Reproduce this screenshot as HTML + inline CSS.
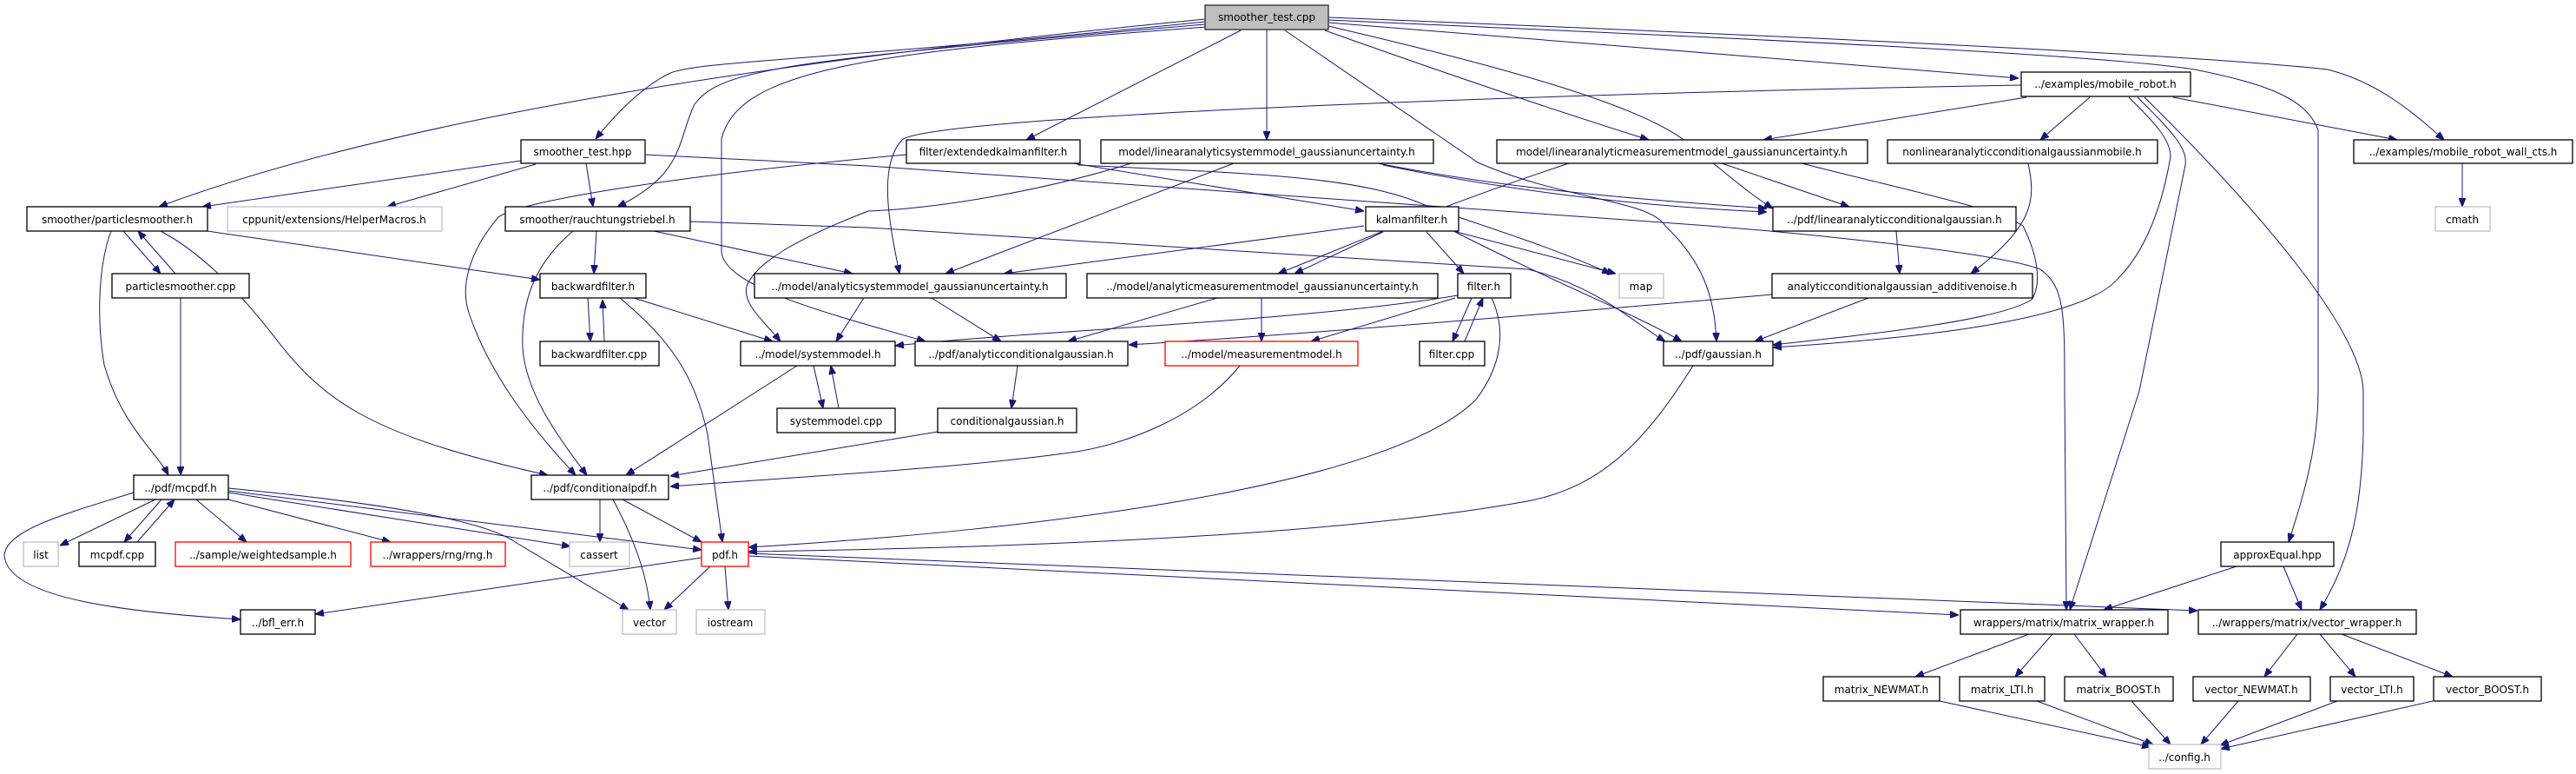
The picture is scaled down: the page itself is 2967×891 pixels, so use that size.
<!DOCTYPE html>
<html><head><meta charset="utf-8"><style>
html,body{margin:0;padding:0;background:#fff;}
svg{display:block;}
text{font-family:"DejaVu Sans","Liberation Sans",sans-serif;font-size:12px;fill:#000;text-anchor:middle;}
.n{fill:#fff;stroke:#000;stroke-width:1.3;}
.g{fill:#fff;stroke:#bfbfbf;stroke-width:1.3;}
.r{fill:#fff;stroke:#ff0000;stroke-width:1.3;}
.e{fill:none;stroke:#191970;stroke-width:1;marker-end:url(#a);}
</style></head><body>
<svg width="2967" height="891" viewBox="0 0 2967 891" xmlns="http://www.w3.org/2000/svg">
<defs><marker id="a" markerWidth="10" markerHeight="8" refX="10" refY="4" orient="auto" markerUnits="userSpaceOnUse"><path d="M0,0 L10,4 L0,8 z" fill="#191970" stroke="#191970"/></marker></defs>

<g>
<path class="e" d="M1388,22 C1000,60 500,120 183,238"/>
<path class="e" d="M1388,25 C950,70 800,70 770,85 C740,100 710,130 686,160"/>
<path class="e" d="M1388,28 C900,70 830,80 800,120 C780,160 790,200 711,238"/>
<path class="e" d="M1390,31 C1000,60 850,80 831,160 L831,290 C835,330 950,360 1066,393"/>
<path class="e" d="M1429,35 L1182,161"/>
<path class="e" d="M1459,34 L1459,161"/>
<path class="e" d="M1480,35 L1702,187 C1800,230 1900,230 1918,260 C1960,300 1975,340 1977,393"/>
<path class="e" d="M1526,35 C1680,90 1800,130 1899,161"/>
<path class="e" d="M1530,26 L2325,90"/>
<path class="e" d="M1530,30 C1700,70 1900,120 1950,170 C1990,200 2010,220 2042,240"/>
<path class="e" d="M1530,20 C1900,35 2500,60 2681,80 C2740,95 2780,130 2815,161"/>
<path class="e" d="M1530,23 C1900,40 2400,60 2528,80 C2600,95 2656,110 2670,150 L2670,450 C2670,520 2650,580 2636,624"/>
<path class="e" d="M600,185 L233,238"/>
<path class="e" d="M617,189 L446,238"/>
<path class="e" d="M675,188 L683,238"/>
<path class="e" d="M743,178 L1000,191 L1900,255 C2050,265 2300,290 2350,310 C2378,330 2378,360 2378,450 L2380,702"/>
<path class="e" d="M2328,98 C1900,105 1100,130 1040,160 C1010,190 1025,260 1036,315"/>
<path class="e" d="M2334,112 L2031,161"/>
<path class="e" d="M2407,112 L2350,161"/>
<path class="e" d="M2503,112 L2761,161"/>
<path class="e" d="M2452,112 C2480,140 2500,160 2500,180 C2490,240 2470,290 2440,320 C2400,370 2200,390 2042,400"/>
<path class="e" d="M2462,112 C2500,150 2520,170 2517,190 L2464,450 L2384,702"/>
<path class="e" d="M2470,112 C2600,240 2720,380 2722,450 L2722,500 C2720,580 2710,640 2672,702"/>
<path class="e" d="M1587,188 C1750,220 1900,230 2035,240"/>
<path class="e" d="M1593,190 C1750,222 1900,238 2035,244"/>
<path class="e" d="M1421,188 L1089,315"/>
<path class="e" d="M1303,188 C1200,220 1080,240 1000,243 C930,270 870,300 860,330 C855,350 880,370 899,393"/>
<path class="e" d="M1983,188 L2130,238"/>
<path class="e" d="M2075,188 C2200,220 2300,240 2330,260 C2350,300 2350,330 2340,345 C2300,370 2150,385 2042,397"/>
<path class="e" d="M1807,188 C1650,240 1560,280 1472,315"/>
<path class="e" d="M1236,188 L1571,243"/>
<path class="e" d="M1242,190 C1450,200 1574,203 1650,240 C1740,270 1800,290 1855,315"/>
<path class="e" d="M1044,178 C800,200 600,230 574,250 C540,290 530,330 540,360 C560,420 600,480 663,547"/>
<path class="e" d="M2184,266 L2188,315"/>
<path class="e" d="M2336,188 C2345,230 2343,260 2270,315"/>
<path class="e" d="M2152,343 L2021,393"/>
<path class="e" d="M2041,339 C1800,360 1500,385 1300,397"/>
<path class="e" d="M2836,188 L2836,238"/>
<path class="e" d="M1571,260 L1156,315"/>
<path class="e" d="M1593,267 L1491,315"/>
<path class="e" d="M1643,267 L1686,315"/>
<path class="e" d="M1670,265 L1861,315"/>
<path class="e" d="M1676,267 C1800,330 1880,360 1937,393"/>
<path class="e" d="M687,266 L684,315"/>
<path class="e" d="M753,266 L982,315"/>
<path class="e" d="M660,266 C620,300 600,340 602,400 C605,450 640,500 676,547"/>
<path class="e" d="M795,255 L1000,262 L1760,310 C1840,330 1880,370 1918,393"/>
<path class="e" d="M995,343 L963,393"/>
<path class="e" d="M1073,343 L1153,393"/>
<path class="e" d="M1402,343 L1230,393"/>
<path class="e" d="M1453,343 L1453,393"/>
<path class="e" d="M1679,340 C1500,370 1200,380 1031,398"/>
<path class="e" d="M1676,343 L1510,393"/>
<path class="e" d="M1695,343 L1673,393"/>
<path class="e" d="M1687,393 L1708,343"/>
<path class="e" d="M1718,343 C1735,380 1730,420 1700,460 C1600,560 1200,610 862,630"/>
<path class="e" d="M677,343 L680,393"/>
<path class="e" d="M696,393 L694,345"/>
<path class="e" d="M730,343 L890,393"/>
<path class="e" d="M714,343 C770,390 800,430 815,500 L832,624"/>
<path class="e" d="M937,421 L948,470"/>
<path class="e" d="M966,470 L957,421"/>
<path class="e" d="M918,421 L721,547"/>
<path class="e" d="M1172,421 L1165,470"/>
<path class="e" d="M1080,497 L772,548"/>
<path class="e" d="M1428,421 C1380,480 1300,510 1240,520 C1100,540 900,550 772,560"/>
<path class="e" d="M1950,421 C1900,500 1850,560 1759,577 C1550,615 1200,630 862,635"/>
<path class="e" d="M142,266 L185,315"/>
<path class="e" d="M202,315 L159,266"/>
<path class="e" d="M128,266 C115,300 110,360 120,420 C140,490 180,520 194,547"/>
<path class="e" d="M185,266 C230,290 270,330 310,380 C370,460 420,500 631,547"/>
<path class="e" d="M239,266 L622,322"/>
<path class="e" d="M208,343 L208,547"/>
<path class="e" d="M691,575 L691,624"/>
<path class="e" d="M706,575 C730,620 745,660 749,702"/>
<path class="e" d="M717,575 L808,624"/>
<path class="e" d="M818,652 L765,702"/>
<path class="e" d="M835,652 L839,702"/>
<path class="e" d="M808,642 L363,707"/>
<path class="e" d="M862,640 L2256,708"/>
<path class="e" d="M862,637 L2531,703"/>
<path class="e" d="M179,575 L69,628"/>
<path class="e" d="M186,575 L143,624"/>
<path class="e" d="M158,624 L201,575"/>
<path class="e" d="M226,575 L284,624"/>
<path class="e" d="M263,575 L450,624"/>
<path class="e" d="M263,567 L657,629"/>
<path class="e" d="M263,565 L808,633"/>
<path class="e" d="M263,562 C450,580 560,600 595,625 L724,702"/>
<path class="e" d="M154,567 C80,590 5,610 5,640 C10,690 150,705 277,713"/>
<path class="e" d="M2576,652 L2423,702"/>
<path class="e" d="M2630,652 L2651,702"/>
<path class="e" d="M2337,730 L2206,779"/>
<path class="e" d="M2364,730 L2321,779"/>
<path class="e" d="M2389,730 L2426,779"/>
<path class="e" d="M2646,730 L2608,779"/>
<path class="e" d="M2672,730 L2713,779"/>
<path class="e" d="M2697,730 L2825,779"/>
<path class="e" d="M2234,807 L2477,860"/>
<path class="e" d="M2346,807 L2480,857"/>
<path class="e" d="M2455,807 L2500,857"/>
<path class="e" d="M2578,807 L2535,857"/>
<path class="e" d="M2692,807 L2557,858"/>
<path class="e" d="M2802,807 L2558,862"/>
</g>

<g>
<rect x="1388" y="6" width="142" height="28" fill="#bfbfbf" stroke="#404040" stroke-width="1.5"/><text x="1459" y="24">smoother_test.cpp</text>
<rect class="n" x="2328" y="83" width="195" height="28"/><text x="2425" y="101">../examples/mobile_robot.h</text>
<rect class="n" x="600" y="161" width="143" height="27"/><text x="671" y="179">smoother_test.hpp</text>
<rect class="n" x="1044" y="161" width="200" height="27"/><text x="1144" y="179">filter/extendedkalmanfilter.h</text>
<rect class="n" x="1268" y="161" width="383" height="27"/><text x="1459" y="179">model/linearanalyticsystemmodel_gaussianuncertainty.h</text>
<rect class="n" x="1724" y="161" width="427" height="27"/><text x="1937" y="179">model/linearanalyticmeasurementmodel_gaussianuncertainty.h</text>
<rect class="n" x="2174" y="161" width="311" height="27"/><text x="2329" y="179">nonlinearanalyticconditionalgaussianmobile.h</text>
<rect class="n" x="2711" y="161" width="252" height="27"/><text x="2837" y="179">../examples/mobile_robot_wall_cts.h</text>

<rect class="n" x="31" y="238" width="208" height="28"/><text x="135" y="257">smoother/particlesmoother.h</text>
<rect class="g" x="262" y="238" width="247" height="28"/><text x="385" y="257">cppunit/extensions/HelperMacros.h</text>
<rect class="n" x="582" y="238" width="213" height="28"/><text x="688" y="257">smoother/rauchtungstriebel.h</text>
<rect class="n" x="1573" y="238" width="107" height="28"/><text x="1626" y="257">kalmanfilter.h</text>
<rect class="n" x="2042" y="238" width="280" height="28"/><text x="2182" y="257">../pdf/linearanalyticconditionalgaussian.h</text>
<rect class="g" x="2805" y="238" width="63" height="28"/><text x="2836" y="257">cmath</text>

<rect class="n" x="129" y="315" width="158" height="28"/><text x="208" y="334">particlesmoother.cpp</text>
<rect class="n" x="622" y="315" width="122" height="28"/><text x="683" y="334">backwardfilter.h</text>
<rect class="n" x="869" y="315" width="359" height="28"/><text x="1048" y="334">../model/analyticsystemmodel_gaussianuncertainty.h</text>
<rect class="n" x="1252" y="315" width="404" height="28"/><text x="1454" y="334">../model/analyticmeasurementmodel_gaussianuncertainty.h</text>
<rect class="n" x="1679" y="315" width="61" height="28"/><text x="1709" y="334">filter.h</text>
<rect class="g" x="1865" y="315" width="51" height="28"/><text x="1890" y="334">map</text>
<rect class="n" x="2041" y="315" width="300" height="28"/><text x="2191" y="334">analyticconditionalgaussian_additivenoise.h</text>

<rect class="n" x="622" y="393" width="137" height="28"/><text x="690" y="412">backwardfilter.cpp</text>
<rect class="n" x="853" y="393" width="178" height="28"/><text x="942" y="412">../model/systemmodel.h</text>
<rect class="n" x="1054" y="393" width="245" height="28"/><text x="1176" y="412">../pdf/analyticconditionalgaussian.h</text>
<rect class="r" x="1342" y="393" width="222" height="28"/><text x="1453" y="412">../model/measurementmodel.h</text>
<rect class="n" x="1635" y="393" width="75" height="28"/><text x="1672" y="412">filter.cpp</text>
<rect class="n" x="1916" y="393" width="126" height="28"/><text x="1979" y="412">../pdf/gaussian.h</text>

<rect class="n" x="895" y="470" width="136" height="28"/><text x="963" y="489">systemmodel.cpp</text>
<rect class="n" x="1080" y="470" width="160" height="28"/><text x="1160" y="489">conditionalgaussian.h</text>

<rect class="n" x="154" y="547" width="109" height="28"/><text x="208" y="566">../pdf/mcpdf.h</text>
<rect class="n" x="612" y="547" width="158" height="28"/><text x="691" y="566">../pdf/conditionalpdf.h</text>

<rect class="g" x="27" y="624" width="40" height="28"/><text x="47" y="643">list</text>
<rect class="n" x="91" y="624" width="88" height="28"/><text x="135" y="643">mcpdf.cpp</text>
<rect class="r" x="202" y="624" width="202" height="28"/><text x="303" y="643">../sample/weightedsample.h</text>
<rect class="r" x="427" y="624" width="155" height="28"/><text x="504" y="643">../wrappers/rng/rng.h</text>
<rect class="g" x="656" y="624" width="69" height="28"/><text x="690" y="643">cassert</text>
<rect class="r" x="808" y="624" width="54" height="28"/><text x="835" y="643">pdf.h</text>
<rect class="n" x="2558" y="624" width="130" height="28"/><text x="2623" y="643">approxEqual.hpp</text>

<rect class="n" x="277" y="702" width="86" height="28"/><text x="320" y="721">../bfl_err.h</text>
<rect class="g" x="717" y="702" width="62" height="28"/><text x="748" y="721">vector</text>
<rect class="g" x="802" y="702" width="79" height="28"/><text x="841" y="721">iostream</text>
<rect class="n" x="2258" y="702" width="239" height="28"/><text x="2377" y="721">wrappers/matrix/matrix_wrapper.h</text>
<rect class="n" x="2532" y="702" width="251" height="28"/><text x="2657" y="721">../wrappers/matrix/vector_wrapper.h</text>

<rect class="n" x="2100" y="779" width="134" height="28"/><text x="2167" y="798">matrix_NEWMAT.h</text>
<rect class="n" x="2257" y="779" width="98" height="28"/><text x="2306" y="798">matrix_LTI.h</text>
<rect class="n" x="2378" y="779" width="125" height="28"/><text x="2440" y="798">matrix_BOOST.h</text>
<rect class="n" x="2526" y="779" width="135" height="28"/><text x="2593" y="798">vector_NEWMAT.h</text>
<rect class="n" x="2684" y="779" width="96" height="28"/><text x="2732" y="798">vector_LTI.h</text>
<rect class="n" x="2803" y="779" width="124" height="28"/><text x="2865" y="798">vector_BOOST.h</text>
<rect class="g" x="2475" y="857" width="83" height="28"/><text x="2516" y="876">../config.h</text>
</g>
</svg>
</body></html>
